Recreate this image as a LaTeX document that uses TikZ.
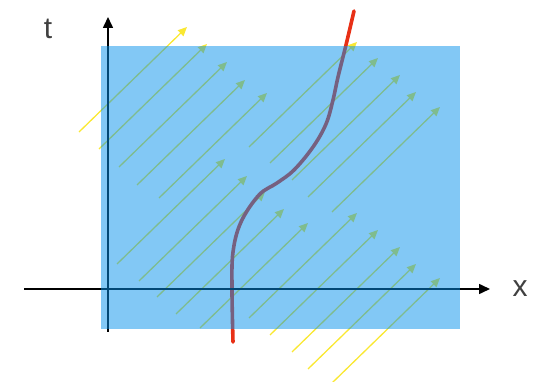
\documentclass[tikz,border=0pt]{standalone}
\usepackage{fontspec}
\setmainfont{Liberation Sans}
\usetikzlibrary{arrows.meta}
\definecolor{arrowyellow}{RGB}{250,232,50}
\definecolor{panelblue}{RGB}{5,145,235}
\definecolor{curvered}{RGB}{232,48,22}
\definecolor{labelgrey}{RGB}{64,64,64}
\begin{document}
\begin{tikzpicture}[x=1pt,y=-1pt,
  fieldarrow/.style={arrowyellow, line width=1.3pt, -{Triangle[length=9pt,width=8pt]}},
  axisarrow/.style={black, line width=1.6pt, -{Triangle[length=11pt,width=10pt]}},
  worldline/.style={curvered, line width=3.6pt, line cap=round, line join=round},
  panel/.style={fill=panelblue, fill opacity=0.5, draw=none},
  axislabel/.style={text=labelgrey, font=\fontsize{30}{36}\selectfont, inner sep=0pt}]
\useasboundingbox (0,0) rectangle (542,382);
% field arrows
\foreach \px/\py [count=\i] in {187/27,207/44,227/62,245/80,267/93,
  357/42,378/58,400/75,416/92,440/107,
  225/159,247/176,265/192,284/209,308/223,
  357/213,378/230,400/247,416/264,440/278}{
  \coordinate (tip\i) at (\px,\py);
  \coordinate (tail\i) at (\px-108,\py+105);
  \draw[fieldarrow] (tail\i) -- (tip\i);
}
% world line
\draw[worldline] plot[smooth, tension=0.6] coordinates {(233,342) (232,290) (233,252) (241,222) (259,195) (277,183) (294,170) (313,147) (326,124) (333,100) (338,77) (346,45) (354,11)};
% axes
\coordinate (tbot) at (108,332);
\coordinate (ttop) at (108,17);
\coordinate (xleft) at (24,289);
\coordinate (xright) at (490,289);
\draw[axisarrow] (tbot) -- (ttop);
\draw[axisarrow] (xleft) -- (xright);
% translucent panel
\path[panel] (101,46) rectangle (460,329);
% labels
\node[axislabel] (tlab) at (48,29) {t};
\node[axislabel] (xlab) at (520,289) {x};
\end{tikzpicture}
\end{document}
